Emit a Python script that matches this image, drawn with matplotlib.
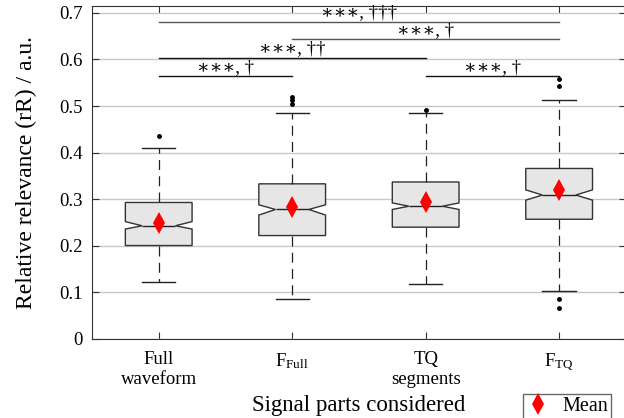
import numpy as np
import matplotlib.pyplot as plt
from matplotlib.lines import Line2D

plt.rcParams['font.family'] = ['Liberation Serif', 'DejaVu Serif']
plt.rcParams['mathtext.fontset'] = 'custom'
plt.rcParams['mathtext.rm'] = 'Liberation Serif'
plt.rcParams['mathtext.it'] = 'Liberation Serif:italic'

# data
labels = ['Full\nwaveform', r'F$_{\mathrm{Full}}$', 'TQ\nsegments', r'F$_{\mathrm{TQ}}$']
medians = [0.243, 0.278, 0.285, 0.309]
q1 = [0.2006, 0.222, 0.240, 0.257]
q3 = [0.293, 0.333, 0.337, 0.366]
whis_lo = [0.122, 0.086, 0.117, 0.103]
whis_hi = [0.409, 0.486, 0.484, 0.514]
notch_lo = [0.236, 0.266, 0.278, 0.298]
notch_hi = [0.252, 0.288, 0.292, 0.320]
outliers = [[0.435], [0.505, 0.512, 0.519], [0.492], [0.086, 0.067, 0.543, 0.557]]
means = [0.250, 0.283, 0.293, 0.319]

# significance brackets: (from, to), height, text
sig_pairs = [(1, 4), (2, 4), (1, 3), (1, 2), (3, 4)]
sig_y = [0.681, 0.643, 0.603, 0.564, 0.564]
sig_txt = ['∗∗∗, †††', '∗∗∗, †', '∗∗∗, ††', '∗∗∗, †', '∗∗∗, †']

fig = plt.figure(figsize=(6.24, 4.18), dpi=100)
ax = fig.add_axes([0.1474, 0.189, 0.8556, 0.797])

stats = []
for i in range(4):
    stats.append(dict(med=medians[i], q1=q1[i], q3=q3[i], whislo=whis_lo[i],
                      whishi=whis_hi[i], cilo=notch_lo[i], cihi=notch_hi[i],
                      fliers=outliers[i], mean=means[i]))

pos = np.arange(1, 5)
ax.bxp(stats, positions=pos, widths=0.5, shownotches=True, patch_artist=True,
       showmeans=False,
       boxprops=dict(facecolor='#e6e6e6', edgecolor='#333333', linewidth=1.0),
       medianprops=dict(color='#222222', linewidth=1.0),
       whiskerprops=dict(color='#222222', linewidth=0.9, linestyle=(0, (8, 5))),
       capprops=dict(color='#222222', linewidth=1.0),
       capwidths=0.25,
       flierprops=dict(marker='o', markerfacecolor='k', markeredgecolor='k',
                       markersize=2.5, linestyle='none'),
       zorder=3)
ax.plot(pos, means, linestyle='none', marker='d', color='red', markersize=11,
        markeredgewidth=0, zorder=4)

for (a, b), y, t in zip(sig_pairs, sig_y, sig_txt):
    col = '#555555' if y > 0.62 else '#111111'
    ax.plot([a, b], [y, y], color=col, linewidth=1.0, zorder=2)
    ax.text((a + b) / 2, y + 0.001, t, ha='center', va='bottom', fontsize=13.5,
            family=['Liberation Serif', 'DejaVu Serif'])

ax.set_xlim(0.5, 4.5)
ax.set_ylim(0, 0.715)
ax.set_yticks(np.arange(0, 0.71, 0.1))
ax.set_yticklabels(['0', '0.1', '0.2', '0.3', '0.4', '0.5', '0.6', '0.7'])
ax.set_xticks(pos)
ax.set_xticklabels(labels)
ax.tick_params(direction='in', top=True, right=True, labelsize=13.5, length=5,
               color='#333333')
ax.tick_params(axis='x', pad=9)
ax.tick_params(axis='y', pad=7)
ax.yaxis.grid(True, color='#c8c8c8', linewidth=1.0)
ax.set_axisbelow(True)
for s in ax.spines.values():
    s.set_color('#333333')

ax.set_ylabel('Relative relevance (rR) / a.u.', fontsize=17, labelpad=16)
ax.set_xlabel('Signal parts considered', fontsize=16.5, labelpad=5)

h = Line2D([], [], linestyle='none', marker='d', color='red', markersize=11,
           markeredgewidth=0)
leg = fig.legend([h], ['Mean'], loc='upper left', bbox_to_anchor=(0.822, 0.081),
                 fontsize=14.5, frameon=True, fancybox=False, edgecolor='#444444',
                 handletextpad=0.6, borderpad=0.15, handlelength=1.2)
leg.get_frame().set_linewidth(1.0)

fig.savefig('out.png', dpi=100)
